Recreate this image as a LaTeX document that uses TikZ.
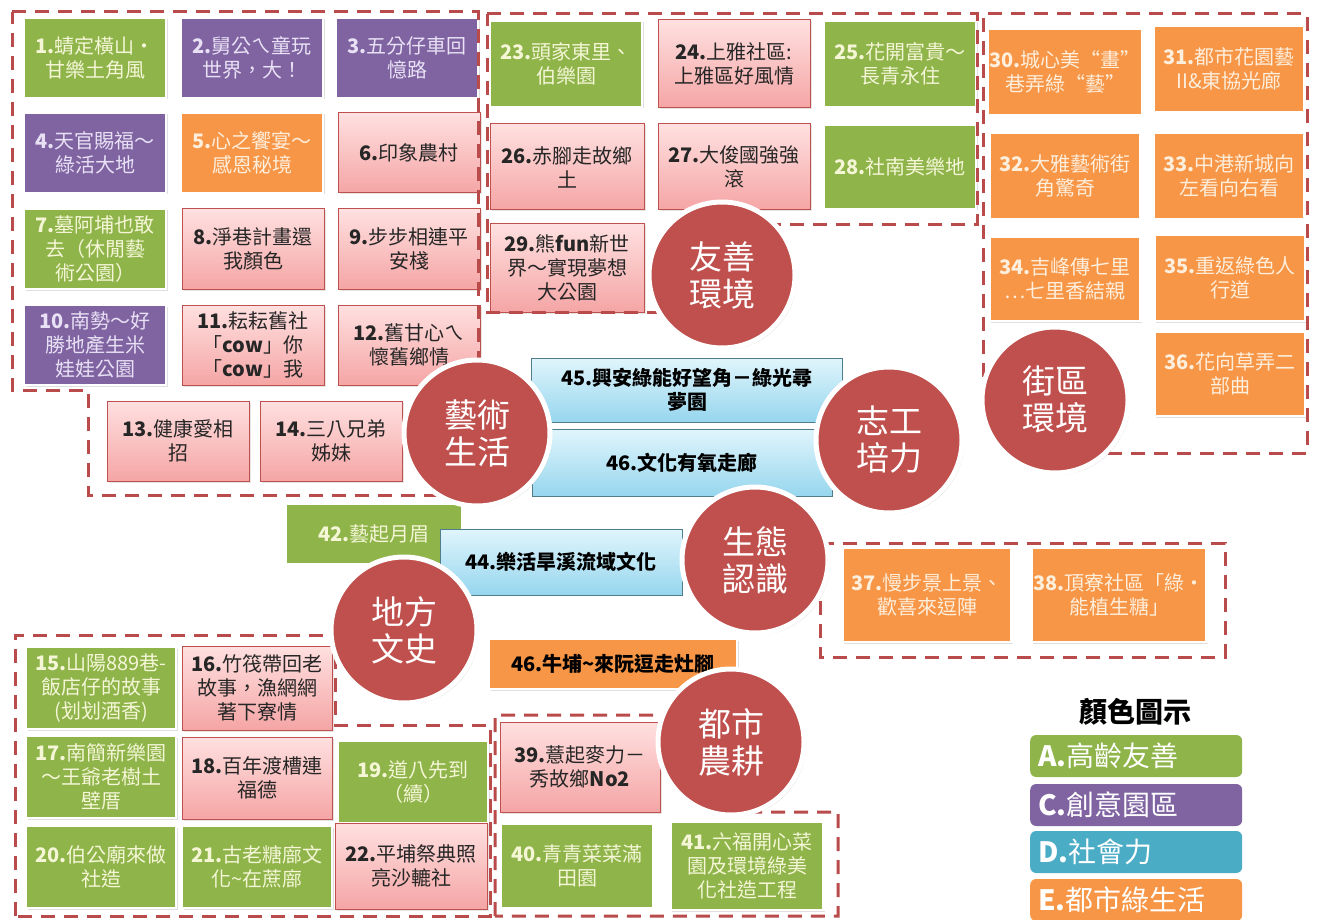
\documentclass[tikz,border=0pt]{standalone}
\usepackage{fontspec}
\setmainfont{Noto Sans CJK TC}
\usetikzlibrary{shadows}

\definecolor{cellgreen}{RGB}{143,180,74}
\definecolor{cellpurple}{RGB}{128,100,162}
\definecolor{cellorange}{RGB}{247,150,70}
\definecolor{cellblue}{RGB}{75,172,198}
\definecolor{greentext}{RGB}{244,246,214}
\definecolor{purpletext}{RGB}{232,224,244}
\definecolor{orangetext}{RGB}{254,238,220}
\definecolor{pinktop}{RGB}{255,224,224}
\definecolor{pinkbot}{RGB}{245,165,165}
\definecolor{pinkline}{RGB}{192,80,77}
\definecolor{bluetop}{RGB}{224,245,252}
\definecolor{bluebot}{RGB}{150,214,238}
\definecolor{blueline}{RGB}{80,125,140}
\definecolor{hubred}{RGB}{192,80,77}
\definecolor{frameline}{RGB}{185,75,75}

\newcommand{\itemnr}[1]{\textbf{#1}}

\tikzset{
  cellbase/.style={rectangle, align=center, inner sep=2pt,
    minimum width=142pt, minimum height=80pt,
    font=\fontsize{20}{24}\selectfont},
  solidcell/.style={cellbase, draw=white, line width=2.5pt,
    drop shadow={opacity=0.25, shadow xshift=1.5pt, shadow yshift=-1.5pt}},
  greencell/.style={solidcell, fill=cellgreen, text=greentext},
  purplecell/.style={solidcell, fill=cellpurple, text=purpletext},
  orangecell/.style={solidcell, fill=cellorange, text=orangetext},
  pinkcell/.style={cellbase, draw=pinkline, line width=1pt,
    top color=pinktop, bottom color=pinkbot, text=black!85,
    drop shadow={opacity=0.2, shadow xshift=1.5pt, shadow yshift=-1.5pt}},
  bluecell/.style={cellbase, draw=blueline, line width=1pt,
    top color=bluetop, bottom color=bluebot, text=black,
    font=\fontsize{20}{24}\selectfont\bfseries},
  hub/.style={circle, fill=hubred, draw=white, line width=5pt,
    minimum size=146pt, align=center, text=white,
    font=\fontsize{33}{37}\selectfont,
    drop shadow={opacity=0.3, shadow xshift=2pt, shadow yshift=-2pt}},
  groupframe/.style={draw=frameline, line width=3pt,
    dash pattern=on 14pt off 9pt},
  legendkey/.style={rectangle, rounded corners=6pt, anchor=west,
    text width=196pt, inner xsep=8pt, minimum height=42pt, align=left,
    text=white, font=\fontsize{28}{30}\selectfont}
}

\begin{document}
\begin{tikzpicture}[x=1pt, y=-1pt]
\fill[white] (0,0) rectangle (1317,920);
\useasboundingbox (0,0) rectangle (1317,920);

% arts & life
\node (n1) [greencell] at (95,58) {\itemnr{1.}蜻定橫山·\\甘樂土角風};
\node (n2) [purplecell] at (252,58) {\itemnr{2.}舅公ㄟ童玩\\世界，大！};
\node (n3) [purplecell] at (407,58) {\itemnr{3.}五分仔車回\\憶路};
\node (n4) [purplecell] at (95,153) {\itemnr{4.}天官賜福～\\綠活大地};
\node (n5) [orangecell] at (252,153) {\itemnr{5.}心之饗宴～\\感恩秘境};
\node (n6) [pinkcell] at (409,153) {\itemnr{6.}印象農村};
\node (n7) [greencell] at (95,249) {\itemnr{7.}墓阿埔也敢\\去（休閒藝\\術公園）};
\node (n8) [pinkcell] at (253,249) {\itemnr{8.}淨巷計畫還\\我顏色};
\node (n9) [pinkcell] at (409,249) {\itemnr{9.}步步相連平\\安棧};
\node (n10) [purplecell] at (95,345) {\itemnr{10.}南勢～好\\勝地產生米\\娃娃公園};
\node (n11) [pinkcell] at (253,345) {\itemnr{11.}耘耘舊社\\「\itemnr{cow}」你\\「\itemnr{cow}」我};
\node (n12) [pinkcell] at (409,345) {\itemnr{12.}舊甘心ㄟ\\懷舊鄉情};
\node (n13) [pinkcell] at (178,441) {\itemnr{13.}健康愛相\\招};
\node (n14) [pinkcell] at (331,441) {\itemnr{14.}三八兄弟\\姊妹};

% friendly environment
\node (n23) [greencell, minimum width=152pt, minimum height=86pt] at (566,64) {\itemnr{23.}頭家東里、\\伯樂園};
\node (n24) [pinkcell, minimum width=152pt, minimum height=88pt] at (734,64) {\itemnr{24.}上雅社區:\\上雅區好風情};
\node (n25) [greencell, minimum width=152pt, minimum height=86pt] at (900,64) {\itemnr{25.}花開富貴～\\長青永住};
\node (n26) [pinkcell, minimum width=154pt, minimum height=86pt] at (567,167) {\itemnr{26.}赤腳走故鄉\\土};
\node (n27) [pinkcell, minimum width=152pt, minimum height=86pt] at (734,167) {\itemnr{27.}大俊國強強\\滾};
\node (n28) [greencell, minimum width=152pt, minimum height=84pt] at (900,167) {\itemnr{28.}社南美樂地};
\node (n29) [pinkcell, minimum width=154pt, minimum height=88pt] at (567,268) {\itemnr{29.}熊\textbf{fun}新世\\界～實現夢想\\大公園};

% street environment
\node (n30) [orangecell, minimum width=151pt, minimum height=86pt] at (1065,72) {\itemnr{30.}城心美“畫”\\巷弄綠“藝”};
\node (n31) [orangecell, minimum width=151pt, minimum height=86pt] at (1229,69) {\itemnr{31.}都市花園藝\\II\&東協光廊};
\node (n32) [orangecell, minimum width=151pt, minimum height=86pt] at (1065,176) {\itemnr{32.}大雅藝術街\\角驚奇};
\node (n33) [orangecell, minimum width=151pt, minimum height=86pt] at (1229,176) {\itemnr{33.}中港新城向\\左看向右看};
\node (n34) [orangecell, minimum width=151pt, minimum height=84pt] at (1065,279) {\itemnr{34.}吉峰傳七里\\…七里香結親};
\node (n35) [orangecell, minimum width=151pt, minimum height=86pt] at (1230,278) {\itemnr{35.}重返綠色人\\行道};
\node (n36) [orangecell, minimum width=151pt, minimum height=84pt] at (1230,374) {\itemnr{36.}花向草弄二\\部曲};

% centre
\node (n45) [bluecell, minimum width=311pt, minimum height=64pt] at (687,390) {45.興安綠能好望角－綠光尋\\夢園};
\node (n46) [bluecell, minimum width=300pt, minimum height=67pt] at (682,463) {46.文化有氧走廊};
\node (n42) [greencell, minimum width=177pt, minimum height=61pt] at (374,534) {\itemnr{42.}藝起月眉};
\node (n44) [bluecell, minimum width=242pt, minimum height=66pt] at (561,562) {44.樂活旱溪流域文化};
\node (n46b) [orangecell, text=black, minimum width=248pt, minimum height=50pt,
  font=\fontsize{20}{24}\selectfont\bfseries] at (613,664) {46.牛埔\textasciitilde 來阮逗走灶腳};
\node (n37) [orangecell, minimum width=169pt, minimum height=94pt] at (927,595) {\itemnr{37.}慢步景上景、\\歡喜來逗陣};
\node (n38) [orangecell, minimum width=168pt, minimum height=94pt] at (1119,595) {\itemnr{38.}頂寮社區「綠·\\能植生糖」};

% local history
\node (n15) [greencell, minimum width=150pt, minimum height=82pt] at (101,688) {\itemnr{15.}山陽889巷-\\飯店仔的故事\\(划划酒香)};
\node (n16) [pinkcell, minimum width=150pt, minimum height=84pt] at (257,688) {\itemnr{16.}竹筏帶回老\\故事，漁網網\\著下寮情};
\node (n17) [greencell, minimum width=150pt, minimum height=82pt] at (101,777) {\itemnr{17.}南簡新樂園\\～王爺老樹土\\壁厝};
\node (n18) [pinkcell, minimum width=150pt, minimum height=82pt] at (257,778) {\itemnr{18.}百年渡槽連\\福德};
\node (n19) [greencell, minimum width=150pt, minimum height=82pt] at (413,782) {\itemnr{19.}道八先到\\（續）};
\node (n20) [greencell, minimum width=150pt, minimum height=82pt] at (101,867) {\itemnr{20.}伯公廟來做\\社造};
\node (n21) [greencell, minimum width=150pt, minimum height=82pt] at (257,867) {\itemnr{21.}古老糖廍文\\化\textasciitilde 在蔗廍};
\node (n22) [pinkcell, minimum width=152pt, minimum height=86pt] at (411,866) {\itemnr{22.}平埔祭典照\\亮沙轆社};

% urban farming
\node (n39) [pinkcell, minimum width=160pt, minimum height=90pt] at (580,767) {\itemnr{39.}薏起麥力－\\秀故鄉\textbf{No2}};
\node (n40) [greencell, minimum width=153pt, minimum height=85pt] at (577,866) {\itemnr{40.}青青菜菜滿\\田園};
\node (n41) [greencell, minimum width=153pt, minimum height=88pt] at (747,866) {\itemnr{41.}六福開心菜\\園及環境綠美\\化社造工程};

% dashed groups
\draw[groupframe] (12,12) -- (478,12) -- (478,495) -- (88,495) -- (88,390) -- (12,390) -- cycle;
\draw[groupframe] (487,14) -- (977,14) -- (977,225) -- (700,225) -- (700,312) -- (487,312) -- cycle;
\draw[groupframe] (983,400) -- (983,14) -- (1307,14) -- (1307,453) -- (1055,453) -- (1055,400) -- cycle;
\draw[groupframe] (820,543) -- (1225,543) -- (1225,657) -- (820,657) -- cycle;
\draw[groupframe] (15,916) -- (15,635) -- (335,635) -- (335,725) -- (490,725) -- (490,916) -- cycle;
\draw[groupframe] (495,916) -- (495,715) -- (680,715) -- (745,812) -- (838,812) -- (838,916) -- cycle;

% themes
\node (friendly) [hub] at (722,275) {友善\\環境};
\node (arts) [hub] at (477,433) {藝術\\生活};
\node (volunteer) [hub] at (889,440) {志工\\培力};
\node (street) [hub] at (1055,400) {街區\\環境};
\node (ecology) [hub] at (755,560) {生態\\認識};
\node (localhist) [hub] at (404,630) {地方\\文史};
\node (urbanfarm) [hub] at (731,742) {都市\\農耕};

% legend
\node (legendtitle) [font=\fontsize{28}{30}\selectfont\bfseries] at (1135,712) {顏色圖示};
\node (legA) [legendkey, fill=cellgreen] at (1030,756) {\itemnr{A.}高齡友善};
\node (legC) [legendkey, fill=cellpurple] at (1030,805) {\itemnr{C.}創意園區};
\node (legD) [legendkey, fill=cellblue] at (1030,852) {\itemnr{D.}社會力};
\node (legE) [legendkey, fill=cellorange] at (1030,900) {\itemnr{E.}都市綠生活};
\end{tikzpicture}
\end{document}
